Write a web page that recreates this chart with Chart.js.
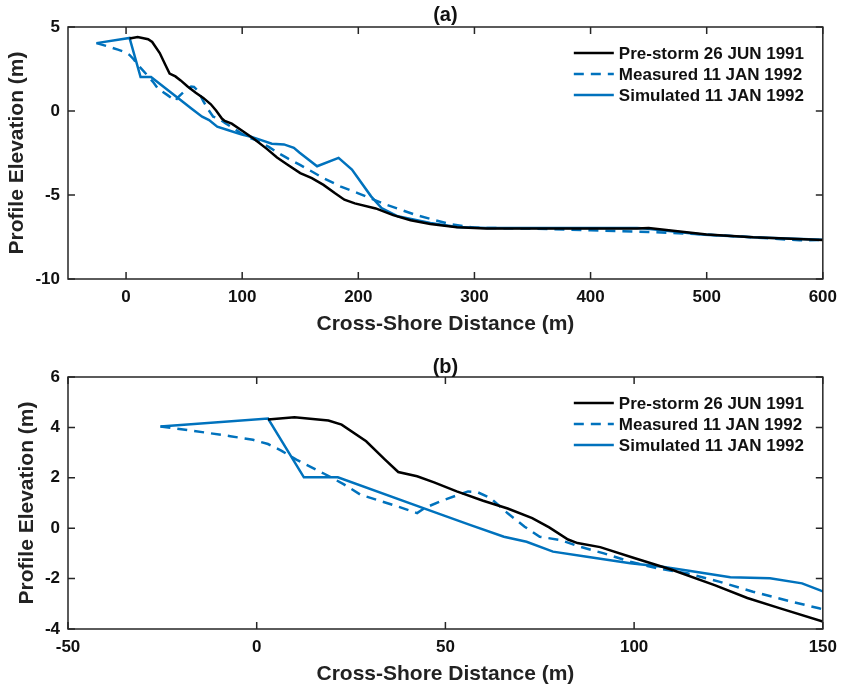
<!DOCTYPE html>
<html>
<head>
<meta charset="utf-8">
<script src="https://cdn.jsdelivr.net/npm/chart.js@4"></script>
<style>
  html, body { margin: 0; padding: 0; background: #fff; }
  .wrap { position: absolute; left: 0; width: 845px; }
  #wrapA { top: 0; }
  #wrapB { top: 345px; }
</style>
</head>
<body>
<div class="wrap" id="wrapA"><canvas id="chartA" width="845" height="345"></canvas></div>
<div class="wrap" id="wrapB"><canvas id="chartB" width="845" height="344"></canvas></div>
<script>
// profile data (distance m, elevation m)
const preX = [3, 10, 19, 22.5, 29, 34, 37.5, 42.5, 47, 53, 60, 66.5, 73, 77.5, 82.5, 85, 91, 100, 110, 121.5, 130, 138.5, 150, 160, 170, 180, 188, 197, 215, 230, 245, 262, 285, 310, 440, 450, 500, 540, 600];
const preY = [4.31, 4.4, 4.27, 4.11, 3.45, 2.72, 2.23, 2.06, 1.82, 1.46, 1.09, 0.78, 0.4, 0.03, -0.45, -0.59, -0.75, -1.18, -1.65, -2.27, -2.77, -3.17, -3.7, -4.0, -4.4, -4.9, -5.28, -5.5, -5.8, -6.2, -6.5, -6.72, -6.92, -7.0, -7.0, -6.97, -7.35, -7.52, -7.68];

const measX = [-25.5, -17, -7, -1, 3, 6.5, 10.5, 17.5, 23, 27.5, 36, 42.5, 44.5, 49, 56, 58.5, 62, 66.5, 71, 75, 80.5, 85.5, 92, 99, 106, 114, 122.5, 131.5, 140, 149, 160, 170, 185, 200, 225, 250, 280, 300, 350, 400, 450, 500, 540, 580, 600];
const measY = [4.04, 3.87, 3.65, 3.51, 3.34, 3.08, 2.72, 2.19, 1.75, 1.33, 0.93, 0.6, 0.8, 1.09, 1.46, 1.43, 1.19, 0.59, 0.06, -0.34, -0.47, -0.73, -1.0, -1.33, -1.59, -1.79, -2.12, -2.52, -2.85, -3.18, -3.6, -4.0, -4.5, -4.9, -5.6, -6.2, -6.75, -6.95, -7.0, -7.1, -7.2, -7.35, -7.52, -7.7, -7.68];

const simX = [-25.5, 3, 12.5, 21.5, 48, 56.5, 65.5, 71.5, 78.5, 87.5, 99, 107.5, 114.5, 125.5, 136, 144.5, 149.5, 164.5, 183, 194.5, 211, 220, 234, 262, 285, 310, 440, 447, 498, 540, 600];
const simY = [4.04, 4.35, 2.02, 2.02, 0.59, 0.13, -0.34, -0.54, -0.93, -1.13, -1.39, -1.53, -1.69, -1.95, -1.99, -2.19, -2.48, -3.29, -2.79, -3.49, -5.08, -5.78, -6.27, -6.67, -6.91, -6.97, -6.97, -7.0, -7.37, -7.51, -7.67];

const seriesNames = ["Pre-storm 26 JUN 1991", "Measured 11 JAN 1992", "Simulated 11 JAN 1992"];

const xTicksA = [0, 100, 200, 300, 400, 500, 600];
const yTicksA = [-10, -5, 0, 5];
const xTicksB = [-50, 0, 50, 100, 150];
const yTicksB = [-4, -2, 0, 2, 4, 6];

const FONT = "'Liberation Sans', Arial, sans-serif";
const INK = "#262626";
const BLUE = "#0072BD";

function pairs(xs, ys) {
  return xs.map((x, i) => ({ x: x, y: ys[i] }));
}

// MATLAB-like box, inward ticks, panel title and legend
const frame = {
  id: "frame",
  afterDatasetsDraw(chart, args, opts) {
    const { ctx, chartArea: a, scales } = chart;
    ctx.save();
    ctx.strokeStyle = INK;
    ctx.lineWidth = 1.5;
    ctx.strokeRect(a.left, a.top, a.width, a.height);
    ctx.beginPath();
    scales.x.ticks.forEach(t => {
      const px = scales.x.getPixelForValue(t.value);
      ctx.moveTo(px, a.bottom); ctx.lineTo(px, a.bottom - 7);
      ctx.moveTo(px, a.top); ctx.lineTo(px, a.top + 7);
    });
    scales.y.ticks.forEach(t => {
      const py = scales.y.getPixelForValue(t.value);
      ctx.moveTo(a.left, py); ctx.lineTo(a.left + 7, py);
      ctx.moveTo(a.right, py); ctx.lineTo(a.right - 7, py);
    });
    ctx.stroke();

    ctx.fillStyle = "#111";
    ctx.font = "bold 20px " + FONT;
    ctx.textAlign = "center";
    ctx.textBaseline = "middle";
    ctx.fillText(opts.title, (a.left + a.right) / 2, a.top - opts.titleGap);

    ctx.font = "bold 17px " + FONT;
    ctx.textAlign = "left";
    chart.data.datasets.forEach((ds, i) => {
      const y = a.top + 26 + i * 21;
      const x0 = a.right - 249;
      ctx.strokeStyle = ds.borderColor;
      ctx.lineWidth = ds.borderWidth;
      ctx.setLineDash(ds.borderDash || []);
      ctx.beginPath();
      ctx.moveTo(x0, y);
      ctx.lineTo(x0 + 40, y);
      ctx.stroke();
      ctx.setLineDash([]);
      ctx.fillText(ds.label, x0 + 45, y + 1);
    });
    ctx.restore();
  }
};

function makeChart(id, cfg) {
  return new Chart(document.getElementById(id), {
    type: "line",
    data: {
      datasets: [
        { label: seriesNames[0], data: pairs(preX, preY), borderColor: "#000", borderWidth: 2.5 },
        { label: seriesNames[1], data: pairs(measX, measY), borderColor: BLUE, borderWidth: 2.5, borderDash: [10, 7] },
        { label: seriesNames[2], data: pairs(simX, simY), borderColor: BLUE, borderWidth: 2.5 }
      ]
    },
    options: {
      responsive: false,
      animation: false,
      elements: { point: { radius: 0 }, line: { tension: 0 } },
      layout: { padding: { top: cfg.top, right: 19, left: 0, bottom: 0 } },
      plugins: {
        legend: { display: false },
        tooltip: { enabled: false },
        frame: { title: cfg.title, titleGap: cfg.titleGap }
      },
      scales: {
        x: {
          type: "linear",
          min: cfg.xMin, max: cfg.xMax,
          grid: { display: false, drawTicks: false },
          border: { display: false },
          afterBuildTicks: s => { s.ticks = cfg.xTicks.map(v => ({ value: v })); },
          afterFit: s => { s.height = cfg.xHeight; },
          ticks: { color: "#111", padding: 8, font: { family: FONT, size: 17, weight: "bold" } },
          title: {
            display: true, text: "Cross-Shore Distance (m)", color: "#222",
            padding: { top: 0, bottom: cfg.xTitlePad },
            font: { family: FONT, size: 21, weight: "bold" }
          }
        },
        y: {
          type: "linear",
          min: cfg.yMin, max: cfg.yMax,
          grid: { display: false, drawTicks: false },
          border: { display: false },
          afterBuildTicks: s => { s.ticks = cfg.yTicks.map(v => ({ value: v })); },
          afterFit: s => { s.width = 68; },
          ticks: { color: "#111", padding: 8, font: { family: FONT, size: 17, weight: "bold" } },
          title: {
            display: true, text: "Profile Elevation (m)", color: "#222",
            padding: { top: cfg.yTitlePad, bottom: 0 },
            font: { family: FONT, size: 21, weight: "bold" }
          }
        }
      }
    },
    plugins: [frame]
  });
}

makeChart("chartA", {
  title: "(a)", titleGap: 12, top: 27, xHeight: 66, xTitlePad: 8, yTitlePad: 5,
  xMin: -50, xMax: 600, yMin: -10, yMax: 5, xTicks: xTicksA, yTicks: yTicksA
});

makeChart("chartB", {
  title: "(b)", titleGap: 10, top: 32, xHeight: 60, xTitlePad: 2, yTitlePad: 15,
  xMin: -50, xMax: 150, yMin: -4, yMax: 6, xTicks: xTicksB, yTicks: yTicksB
});
</script>
</body>
</html>
